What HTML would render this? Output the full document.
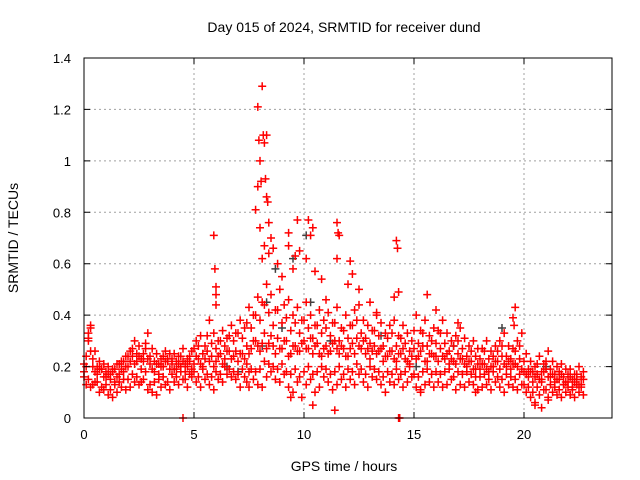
<!DOCTYPE html>
<html><head><meta charset="utf-8"><style>
body{margin:0;background:#fff}
svg{display:block;font-family:"Liberation Sans",sans-serif}
</style></head><body>
<svg id="chart" width="640" height="480" viewBox="0 0 640 480" xmlns="http://www.w3.org/2000/svg">
<rect width="640" height="480" fill="#fff"/>
<text x="344" y="32" font-size="14" text-anchor="middle">Day 015 of 2024, SRMTID for receiver dund</text>
<text x="344" y="471" font-size="14" text-anchor="middle">GPS time / hours</text>
<text x="18" y="238" font-size="14" text-anchor="middle" transform="rotate(-90 18 238)">SRMTID / TECUs</text>
<g id="grid"></g><g id="marks"></g><g id="axes"></g>
</svg>
<script>
const xTicks=[0,5,10,15,20];
const yTicks=[0,0.2,0.4,0.6,0.8,1,1.2,1.4];
const yTickLabels=["0","0.2","0.4","0.6","0.8","1","1.2","1.4"];
const timesA=[0,0.2,0.4,0.6,0.8,1,1.2,1.4,1.6,1.8,2,2.2,2.4,2.6,2.8,3,3.2,3.4,3.6,3.8,4,4.2,4.4,4.6,4.8,5,5.2,5.4,5.6,5.8,6,6.2,6.4,6.6,6.8,7,7.2,7.4,7.6,7.8,8,8.2,8.4,8.6,8.8,9,9.2,9.4,9.6,9.8,10,10.2,10.4,10.6,10.8,11,11.2,11.4,11.6,11.8,12,12.2,12.4,12.6,12.8,13,13.2,13.4,13.6,13.8,14,14.2,14.4,14.6,14.8,15,15.2,15.4,15.6,15.8,16,16.2,16.4,16.6,16.8,17,17.2,17.4,17.6,17.8,18,18.2,18.4,18.6,18.8,19,19.2,19.4,19.6,19.8,20,20.2,20.4,20.6,20.8,21,21.2,21.4,21.6,21.8,22,22.2,22.4,22.6];
const timesB=[0.1,0.3,0.5,0.7,0.9,1.1,1.3,1.5,1.7,1.9,2.1,2.3,2.5,2.7,2.9,3.1,3.3,3.5,3.7,3.9,4.1,4.3,4.5,4.7,4.9,5.1,5.3,5.5,5.7,5.9,6.1,6.3,6.5,6.7,6.9,7.1,7.3,7.5,7.7,7.9,8.1,8.3,8.5,8.7,8.9,9.1,9.3,9.5,9.7,9.9,10.1,10.3,10.5,10.7,10.9,11.1,11.3,11.5,11.7,11.9,12.1,12.3,12.5,12.7,12.9,13.1,13.3,13.5,13.7,13.9,14.1,14.3,14.5,14.7,14.9,15.1,15.3,15.5,15.7,15.9,16.1,16.3,16.5,16.7,16.9,17.1,17.3,17.5,17.7,17.9,18.1,18.3,18.5,18.7,18.9,19.1,19.3,19.5,19.7,19.9,20.1,20.3,20.5,20.7,20.9,21.1,21.3,21.5,21.7,21.9,22.1,22.3,22.5,22.7];
const lowVals=[.13,.12,.14,.10,.11,.09,.08,.10,.12,.11,.12,.14,.13,.15,.11,.10,.09,.12,.13,.11,.14,.13,.15,.12,.16,.14,.12,.15,.13,.11,.15,.14,.17,.16,.15,.12,.16,.18,.15,.13,.12,.16,.18,.15,.14,.17,.12,.10,.14,.08,.13,.15,.10,.12,.16,.14,.11,.13,.15,.12,.15,.13,.17,.14,.12,.16,.15,.13,.10,.14,.13,.15,.12,.14,.16,.12,.11,.13,.14,.12,.14,.12,.13,.15,.11,.13,.12,.14,.13,.11,.12,.13,.11,.14,.12,.10,.13,.12,.11,.13,.10,.08,.06,.09,.11,.07,.10,.09,.08,.10,.09,.08,.10,.09];
const lowVals2=[.16,.15,.13,.14,.12,.13,.11,.13,.14,.15,.15,.17,.16,.14,.18,.13,.14,.15,.16,.14,.17,.16,.18,.15,.17,.18,.16,.19,.17,.16,.18,.17,.20,.19,.18,.17,.19,.21,.19,.18,.19,.22,.21,.20,.19,.21,.18,.17,.19,.16,.18,.20,.17,.18,.20,.19,.17,.18,.20,.17,.19,.18,.21,.19,.17,.20,.19,.18,.16,.18,.17,.19,.17,.18,.20,.17,.16,.18,.19,.17,.18,.17,.18,.19,.16,.18,.17,.18,.17,.16,.16,.17,.15,.18,.16,.15,.17,.16,.15,.17,.13,.12,.10,.12,.14,.11,.13,.12,.11,.13,.12,.11,.13,.12];
const midVals=[.18,.30,.20,.17,.19,.16,.15,.14,.17,.18,.20,.24,.22,.19,.27,.21,.18,.17,.20,.22,.21,.19,.20,.18,.22,.21,.23,.20,.26,.24,.22,.25,.23,.26,.24,.22,.25,.28,.27,.30,.26,.33,.29,.28,.31,.27,.30,.25,.28,.26,.30,.27,.25,.29,.24,.28,.26,.30,.25,.27,.24,.29,.31,.27,.25,.23,.28,.26,.22,.24,.26,.22,.25,.23,.21,.27,.24,.28,.22,.25,.24,.27,.23,.21,.22,.25,.23,.20,.22,.19,.19,.21,.18,.20,.22,.24,.20,.19,.21,.23,.18,.16,.14,.17,.15,.19,.16,.14,.15,.13,.14,.12,.15,.13];
const midVals2=[.20,.26,.18,.19,.16,.17,.18,.16,.19,.20,.22,.21,.24,.22,.23,.19,.21,.20,.22,.19,.19,.21,.22,.20,.19,.24,.21,.23,.22,.20,.24,.21,.26,.23,.26,.25,.23,.25,.30,.28,.29,.27,.32,.25,.27,.30,.24,.28,.26,.29,.27,.31,.28,.25,.27,.25,.29,.27,.28,.24,.27,.25,.28,.30,.27,.26,.25,.27,.24,.26,.23,.25,.27,.22,.24,.23,.26,.22,.25,.24,.22,.24,.25,.23,.21,.23,.21,.22,.19,.21,.21,.19,.20,.22,.19,.21,.22,.21,.20,.19,.17,.18,.16,.15,.18,.16,.17,.15,.17,.14,.16,.14,.13,.15];
const highVals=[.24,.35,.26,.22,.21,.20,.19,.21,.22,.24,.26,.30,.28,.25,.33,.27,.25,.23,.26,.25,.25,.24,.27,.23,.26,.30,.32,.28,.38,.33,.30,.34,.31,.36,.33,.38,.35,.43,.40,.47,.45,.52,.48,.42,.50,.44,.46,.40,.43,.38,.45,.40,.36,.42,.38,.41,.37,.43,.35,.40,.36,.42,.44,.38,.36,.34,.40,.37,.33,.36,.38,.32,.36,.33,.30,.40,.34,.38,.32,.35,.34,.38,.33,.30,.32,.35,.31,.28,.30,.27,.27,.30,.26,.28,.30,.33,.28,.27,.30,.33,.25,.22,.20,.24,.21,.26,.22,.20,.21,.19,.19,.17,.20,.18];
const highVals2=[.21,.31,.23,.20,.19,.18,.17,.19,.21,.22,.24,.27,.25,.23,.29,.24,.22,.21,.24,.23,.23,.22,.24,.21,.24,.27,.28,.25,.32,.29,.27,.30,.28,.32,.30,.33,.31,.37,.35,.40,.38,.44,.41,.36,.42,.37,.39,.34,.37,.33,.38,.35,.31,.36,.33,.35,.32,.37,.30,.34,.31,.36,.38,.33,.31,.29,.34,.32,.28,.31,.33,.28,.31,.29,.26,.34,.29,.33,.28,.30,.29,.33,.29,.26,.28,.30,.27,.24,.26,.24,.23,.26,.23,.24,.26,.28,.24,.23,.26,.28,.22,.19,.18,.21,.18,.22,.19,.17,.18,.16,.17,.15,.17,.16];
const spikeTimes=[0.2,0.3,5.9,5.95,6.0,6.0,6.0,7.8,7.9,7.95,8.0,8.05,8.1,8.15,8.2,8.3,8.25,8.3,8.35,8.4,8.5,7.9,8.0,8.1,8.2,8.4,8.6,8.8,9.3,9.3,9.7,9.6,9.5,9.8,10.2,10.3,10.4,10.1,10.5,11.5,11.55,11.6,11.5,12.1,12.2,12.0,13.3,14.2,14.25,14.3,14.1,12.5,9.0,10.8,11.0,13.0,15.6,16.0,19.6,19.5,19.55,17.0,9.4,10.4,11.4,7.5,7.4,15.3,17.8,20.5,20.8,21.1,4.5,14.3,14.35];
const spikeVals=[.33,.36,.71,.58,.51,.48,.44,.81,1.21,1.08,1.0,.92,1.29,1.1,1.07,1.1,.93,.86,.84,.76,.7,.9,.74,.62,.67,.64,.66,.6,.72,.67,.77,.63,.58,.65,.77,.71,.74,.62,.57,.76,.72,.71,.62,.61,.56,.52,.41,.69,.66,.49,.47,.5,.55,.54,.46,.45,.48,.42,.43,.39,.36,.37,.08,.05,.03,.12,.14,.1,.1,.05,.04,.08,0,0,0];
const darkTimes=[8.3,8.7,9.0,9.5,10.1,10.3,8.1,6.5,7.0,11.2,13.5,19.0,21.0,15.1,16.8];
const darkVals=[.45,.58,.35,.62,.71,.45,.28,.2,.18,.3,.32,.35,.2,.2,.28];

const L=84,R=612,T=58,B=418,XMAX=24,YMAX=1.4;
const xs=v=>L+v/XMAX*(R-L);
const ys=v=>B-v/YMAX*(B-T);
const NS="http://www.w3.org/2000/svg";
function mk(tag,attrs,parent){const e=document.createElementNS(NS,tag);for(const k in attrs)e.setAttribute(k,attrs[k]);parent.appendChild(e);return e;}
const grid=document.getElementById('grid'),marks=document.getElementById('marks'),axes=document.getElementById('axes');
xTicks.forEach(t=>{
  if(t>0){const g=mk('line',{x1:xs(t),x2:xs(t),y1:T,y2:B,stroke:'#a0a0a0','stroke-dasharray':'2,3'},grid);
  
  }
  const tk=mk('path',{d:`M${xs(t)},${B}v-6M${xs(t)},${T}v6`,stroke:'#000'},axes);
  
  
  const lb=mk('text',{x:xs(t),y:B+21,'font-size':13,'text-anchor':'middle'},axes);lb.textContent=t;
  
  
});
yTicks.forEach((t,i)=>{
  if(t>0&&t<YMAX){const g=mk('line',{x1:L,x2:R,y1:ys(t),y2:ys(t),stroke:'#a0a0a0','stroke-dasharray':'2,3'},grid);
  
  }
  const tk=mk('path',{d:`M${L},${ys(t)}h6M${R},${ys(t)}h-6`,stroke:'#000'},axes);
  
  
  const lb=mk('text',{x:L-13,y:ys(t)+5,'font-size':13,'text-anchor':'end'},axes);lb.textContent=yTickLabels[i];
  
  
});
const frame=mk('rect',{x:L,y:T,width:R-L,height:B-T,fill:'none',stroke:'#000'},axes);


function plus(t,v,color,name){
  const p=mk('path',{d:`M${xs(t)-4},${ys(v)}h8M${xs(t)},${ys(v)-4}v8`,stroke:color,'stroke-width':1.5},marks);
  
  
}
darkVals.forEach((v,i)=>plus(darkTimes[i],v,'#404040','srmtid-dark-point'));
lowVals.forEach((v,i)=>plus(timesB[i],v,'#ff0000','srmtid-point'));
lowVals2.forEach((v,i)=>plus(timesA[i],v,'#ff0000','srmtid-point'));
midVals.forEach((v,i)=>plus(timesA[i],v,'#ff0000','srmtid-point'));
midVals2.forEach((v,i)=>plus(timesB[i],v,'#ff0000','srmtid-point'));
highVals.forEach((v,i)=>plus(timesB[i],v,'#ff0000','srmtid-point'));
highVals2.forEach((v,i)=>plus(timesA[i],v,'#ff0000','srmtid-point'));
spikeVals.forEach((v,i)=>plus(spikeTimes[i],v,'#ff0000','srmtid-spike-point'));
</script>
</body></html>
